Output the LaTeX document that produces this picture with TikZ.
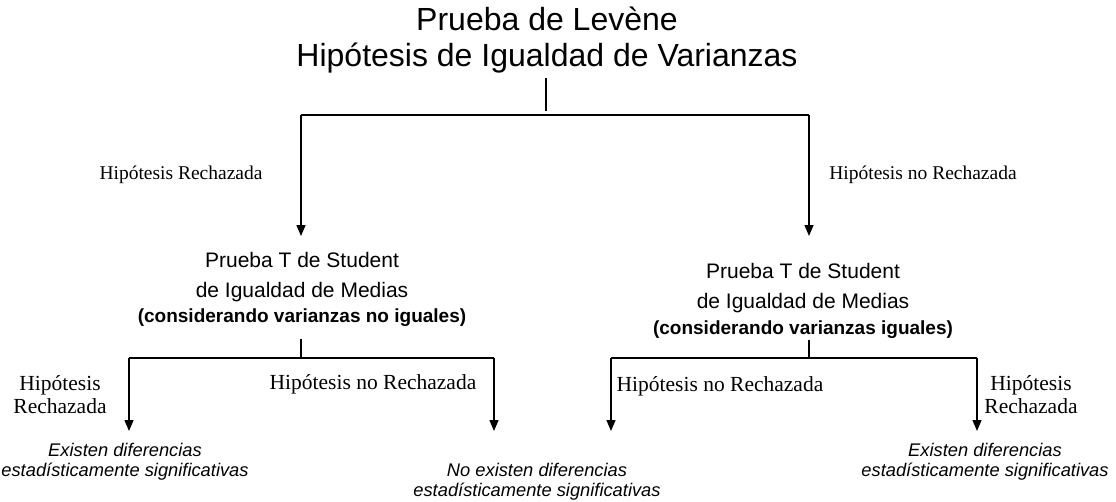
\documentclass[tikz,border=0pt]{standalone}
\usepackage{fontspec}
\setmainfont{Liberation Serif}
\setsansfont{Liberation Sans}
\usetikzlibrary{arrows.meta}
\begin{document}
\begin{tikzpicture}[x=1pt,y=-1pt,
  line/.style={line width=1.3pt},
  arr/.style={line width=1.3pt,-{Triangle[length=11pt,width=9pt]}},
  titletxt/.style={font=\sffamily\fontsize{32}{36}\selectfont,align=center,inner sep=0pt},
  stud/.style={font=\sffamily\fontsize{21}{30}\selectfont,align=center,inner sep=0pt,anchor=north},
  lab/.style={font=\fontsize{19.5}{27}\selectfont,inner sep=0pt},
  labs/.style={font=\fontsize{21.5}{23}\selectfont,align=center,inner sep=0pt},
  outc/.style={font=\sffamily\itshape\fontsize{18.3}{20.5}\selectfont,align=center,inner sep=0pt,anchor=north}]
\useasboundingbox (0,0) rectangle (1116,501);
% title
\node[titletxt] (title) at (547,40) {Prueba de Levène\\Hipótesis de Igualdad de Varianzas};
\coordinate (j0) at (546,115);
\coordinate (jl) at (301,115);
\coordinate (jr) at (809,115);
\draw[line,shorten <=5pt,shorten >=4pt] (title.south -| j0) -- (j0);
\draw[line] (jl) -- (jr);
% second level
\node[stud] (sl) at (302,252) {Prueba T de Student\\de Igualdad de Medias\\[-5pt]{\bfseries\fontsize{19}{20}\selectfont (considerando varianzas no iguales)}};
\node[stud] (sr) at (803,263) {Prueba T de Student\\de Igualdad de Medias\\[-4pt]{\bfseries\fontsize{19}{20}\selectfont (considerando varianzas iguales)}};
\draw[arr,shorten >=16pt] (jl) -- (jl |- sl.north);
\draw[arr,shorten >=27pt] (jr) -- (jr |- sr.north);
\node[lab] (hl) at (181,175) {Hipótesis Rechazada};
\node[lab] (hr) at (923,175) {Hipótesis no Rechazada};
% third level
\coordinate (bl) at (301,358);
\coordinate (bl1) at (129,358);
\coordinate (bl2) at (494,358);
\coordinate (br) at (809,358);
\coordinate (br1) at (611,358);
\coordinate (br2) at (977,358);
\draw[line,shorten <=12pt] (bl |- sl.south) -- (bl);
\draw[line,shorten <=1pt] (br |- sr.south) -- (br);
\draw[line] (bl1) -- (bl2);
\draw[line] (br1) -- (br2);
\node[outc] (ol) at (125,443) {Existen diferencias\\estadísticamente significativas};
\node[outc] (om) at (537,463) {No existen diferencias\\estadísticamente significativas};
\node[outc] (or) at (985,443) {Existen diferencias\\estadísticamente significativas};
\draw[arr,shorten >=12pt] (bl1) -- (bl1 |- ol.north);
\draw[arr,shorten >=12pt] (bl2) -- (bl2 |- ol.north);
\draw[arr,shorten >=12pt] (br1) -- (br1 |- or.north);
\draw[arr,shorten >=12pt] (br2) -- (br2 |- or.north);
\node[labs] (l1) at (60,395) {Hipótesis\\Rechazada};
\node[labs] (l2) at (373,384) {Hipótesis no Rechazada};
\node[labs] (l3) at (720,386) {Hipótesis no Rechazada};
\node[labs] (l4) at (1031,395) {Hipótesis\\Rechazada};
\end{tikzpicture}
\end{document}
